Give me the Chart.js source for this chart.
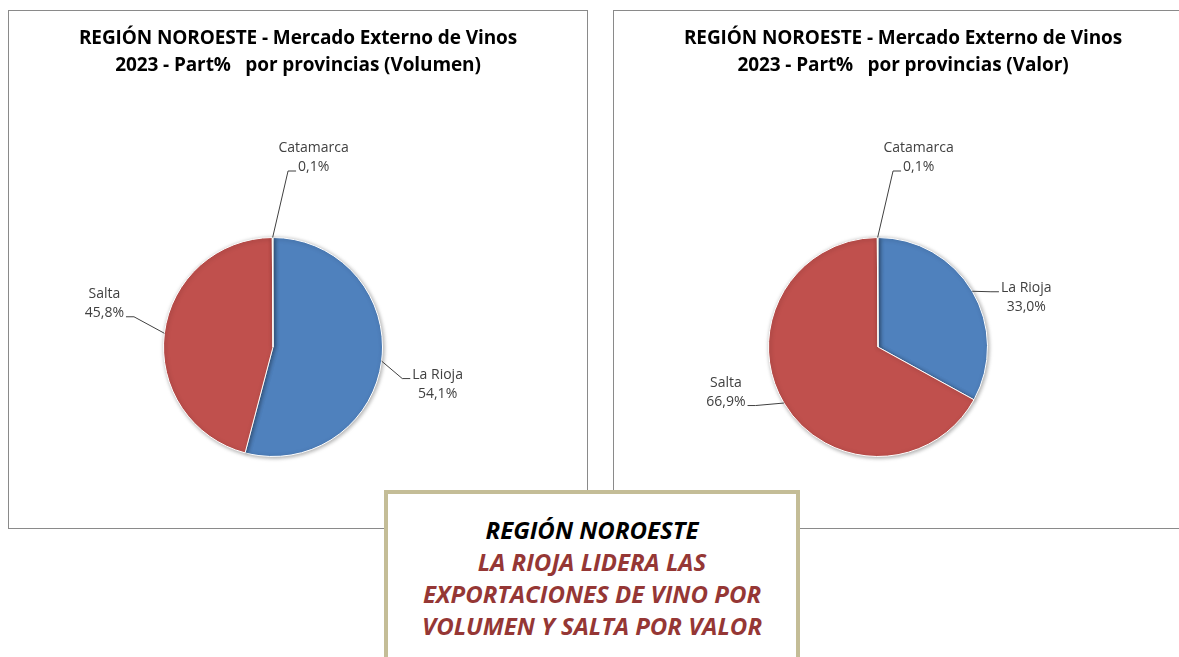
<!DOCTYPE html>
<html lang="es">
<head>
<meta charset="UTF-8">
<title>Región Noroeste - Mercado Externo de Vinos 2023</title>
<script src="https://cdn.jsdelivr.net/npm/chart.js"></script>
<style>
    body {
        margin: 0;
        background: #fff;
        width: 1179px;
        height: 657px;
        overflow: hidden;
        position: relative;
        font-family: "Open Sans", Arial, sans-serif;
    }
    .box {
        position: absolute;
        top: 10px;
        width: 578px;
        height: 517px;
        border: 1px solid #8a8a8a;
        background: #fff;
    }
    .box canvas {
        position: absolute;
        left: 0;
        top: 0;
    }
    .box h2 {
        position: absolute;
        left: 0;
        right: 0;
        top: 13px;
        margin: 0;
        text-align: center;
        font-size: 19px;
        line-height: 27px;
        font-weight: bold;
        color: #000;
        white-space: pre;
        letter-spacing: -0.1px;
        z-index: 2;
    }
    #boxVol { left: 8px; }
    #boxVal { left: 613px; }
    .nota {
        position: absolute;
        left: 384px;
        top: 490px;
        width: 416px;
        height: 200px;
        border: 4px solid #c4bd97;
        background: #fff;
        text-align: center;
        font-style: italic;
        font-weight: bold;
        font-size: 24px;
        line-height: 32px;
        padding-top: 20px;
        box-sizing: border-box;
    }
    .nota .neg { color: #000; }
    .nota .rojo { color: #953735; }
</style>
</head>
<body>
    <div class="box" id="boxVol">
        <h2>REGIÓN NOROESTE - Mercado Externo de Vinos
2023 - Part%   por provincias (Volumen)</h2>
        <canvas id="chartVol" width="578" height="517"></canvas>
    </div>
    <div class="box" id="boxVal">
        <h2>REGIÓN NOROESTE - Mercado Externo de Vinos
2023 - Part%   por provincias (Valor)</h2>
        <canvas id="chartVal" width="578" height="517"></canvas>
    </div>
    <div class="nota">
        <div class="neg">REGIÓN NOROESTE</div>
        <div class="rojo">LA RIOJA LIDERA LAS<br>EXPORTACIONES DE VINO POR<br>VOLUMEN Y SALTA POR VALOR</div>
    </div>
<script>
const provincias = ['La Rioja', 'Salta', 'Catamarca'];
const partVolumen = [54.1, 45.8, 0.1];
const partValor = [33.0, 66.9, 0.1];
const colores = ['#4f81bd', '#c0504d', '#9bbb59'];

// where each label block sits relative to its slice edge point
const offsetsVol = [[56, 23], [-60, -30], [41, -80]];
const offsetsVal = [[54, 6], [-58, -11], [41, -80]];

function pct(v) {
    return v.toFixed(1).replace('.', ',') + '%';
}

// draws Excel-like outside labels with leader lines
const labelsPlugin = {
    id: 'outLabels',
    beforeDatasetsDraw(chart) {
        const c = chart.ctx;
        c.save();
        c.shadowColor = 'rgba(0,0,0,0.35)';
        c.shadowBlur = 4;
        c.shadowOffsetX = 1;
        c.shadowOffsetY = 1;
    },
    afterDatasetsDraw(chart, args, opts) {
        const c = chart.ctx;
        c.restore();
        const meta = chart.getDatasetMeta(0);
        const data = chart.data.datasets[0].data;
        c.save();
        c.font = '14px "Open Sans", Arial, sans-serif';
        c.textBaseline = 'middle';
        c.textAlign = 'center';
        meta.data.forEach((arc, i) => {
            const p = arc.getProps(['x', 'y', 'startAngle', 'endAngle', 'outerRadius'], true);
            const mid = (p.startAngle + p.endAngle) / 2;
            const ax = p.x + Math.cos(mid) * p.outerRadius;
            const ay = p.y + Math.sin(mid) * p.outerRadius;
            const off = opts.offsets[i];
            const cx = ax + off[0];
            const cy = ay + off[1];
            const lines = [chart.data.labels[i], pct(data[i])];
            const lh = 19;
            const ys = [cy - lh / 2, cy + lh / 2];
            c.fillStyle = '#404040';
            lines.forEach((t, k) => c.fillText(t, cx, ys[k]));

            // pick the line closest to the slice
            const k = Math.abs(ay - ys[0]) < Math.abs(ay - ys[1]) ? 0 : 1;
            const w = c.measureText(lines[k]).width;
            const ly = ys[k] + 4;
            let edge, elbow;
            if (ax < cx) {
                edge = cx - w / 2 - 2;
                elbow = edge - 8;
            } else {
                edge = cx + w / 2 + 2;
                elbow = edge + 8;
            }
            c.strokeStyle = '#404040';
            c.lineWidth = 1;
            c.beginPath();
            c.moveTo(ax, ay);
            c.lineTo(elbow, ly);
            c.lineTo(edge, ly);
            c.stroke();
        });
        c.restore();
    }
};

function makePie(id, values, offsets) {
    return new Chart(document.getElementById(id), {
        type: 'pie',
        data: {
            labels: provincias,
            datasets: [{
                data: values,
                backgroundColor: colores,
                borderColor: '#ffffff',
                borderWidth: 1
            }]
        },
        options: {
            responsive: false,
            animation: false,
            layout: {
                padding: { left: 154, right: 204, top: 226, bottom: 71 }
            },
            plugins: {
                legend: { display: false },
                tooltip: { enabled: false },
                outLabels: { offsets: offsets }
            }
        },
        plugins: [labelsPlugin]
    });
}

makePie('chartVol', partVolumen, offsetsVol);
makePie('chartVal', partValor, offsetsVal);
</script>
</body>
</html>
